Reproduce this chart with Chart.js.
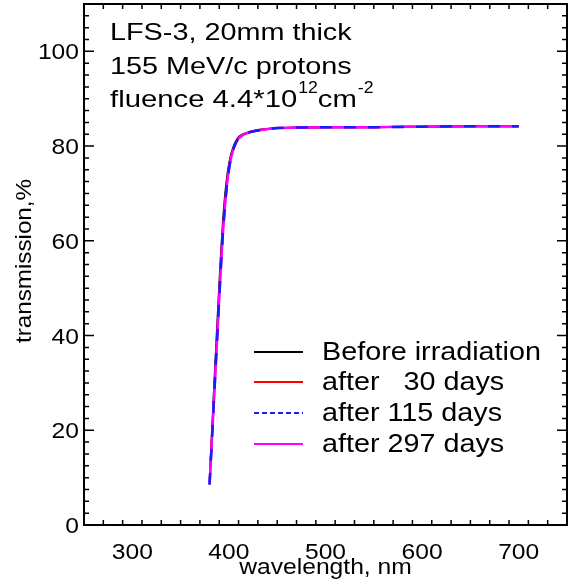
<!DOCTYPE html>
<html lang="en">
<head>
<meta charset="UTF-8">
<title>LFS-3 transmission</title>
<script src="https://cdn.jsdelivr.net/npm/chart.js"></script>
<style>
  body { margin: 0; background: #fff; }
  #wrap { width: 573px; height: 585px; position: relative; }
</style>
</head>
<body>
<div id="wrap"><canvas id="chart"></canvas></div>
<script>
// wavelength, nm
const wavelengths = [380, 382, 384, 386, 388, 390, 392, 394, 396, 398, 400, 402, 404, 406, 408, 410,
  413, 416, 420, 425, 430, 440, 450, 470, 500, 550, 600, 650, 700];
// transmission, %
const before  = [9.0, 17.5, 26.0, 34.5, 42.5, 50.5, 58.0, 64.5, 69.5, 73.3, 76.0, 78.0, 79.4, 80.5, 81.3, 81.9,
  82.3, 82.6, 82.9, 83.2, 83.4, 83.6, 83.8, 83.9, 84.0, 84.0, 84.1, 84.2, 84.2];
const after30 = [8.8, 16.6, 24.5, 32.4, 40.3, 48.2, 55.8, 62.5, 67.8, 72.0, 75.2, 77.4, 79.0, 80.2, 81.1, 81.7,
  82.2, 82.5, 82.8, 83.1, 83.3, 83.6, 83.8, 83.9, 84.0, 84.0, 84.1, 84.2, 84.2];
const after115 = [8.5, 16.3, 24.2, 32.1, 40.0, 47.9, 55.5, 62.2, 67.5, 71.8, 75.0, 77.3, 78.9, 80.1, 81.0, 81.6,
  82.1, 82.5, 82.8, 83.1, 83.3, 83.6, 83.8, 83.9, 84.0, 84.0, 84.1, 84.2, 84.2];
const after297 = [8.6, 16.4, 24.3, 32.2, 40.1, 48.0, 55.6, 62.3, 67.6, 71.9, 75.1, 77.3, 78.9, 80.1, 81.0, 81.6,
  82.1, 82.5, 82.8, 83.1, 83.3, 83.6, 83.8, 83.9, 84.0, 84.0, 84.1, 84.2, 84.2];

const seriesLabels = ['Before irradiation', 'after   30 days', 'after 115 days', 'after 297 days'];
const xTicks = [300, 400, 500, 600, 700];
const yTicks = [0, 20, 40, 60, 80, 100];

const FONT = '"Liberation Sans", Arial, Helvetica, sans-serif';

function toPoints(ys) {
  return wavelengths.map((w, i) => ({ x: w, y: ys[i] }));
}

// draw text widened horizontally, returns the drawn width
function wideText(ctx, text, x, y, size, align, sx) {
  ctx.save();
  ctx.font = size + 'px ' + FONT;
  ctx.textAlign = align;
  ctx.textBaseline = 'alphabetic';
  ctx.translate(x, y);
  ctx.scale(sx, 1);
  ctx.fillText(text, 0, 0);
  const w = ctx.measureText(text).width * sx;
  ctx.restore();
  return w;
}

const frame = {
  id: 'frame',
  afterDraw(chart) {
    const { ctx, chartArea: a, scales: { x, y } } = chart;
    ctx.save();
    ctx.fillStyle = '#000';
    ctx.strokeStyle = '#000';

    // ticks pointing inwards on all four sides
    ctx.lineWidth = 1.5;
    ctx.beginPath();
    for (let i = 1; i < 25; i++) {
      const v = 250 + i * 20;
      const px = x.getPixelForValue(v);
      const len = xTicks.includes(v) ? 10 : 5;
      ctx.moveTo(px, a.bottom); ctx.lineTo(px, a.bottom - len);
      ctx.moveTo(px, a.top); ctx.lineTo(px, a.top + len);
    }
    for (let i = 1; i < 44; i++) {
      const v = i * 2.5;
      const py = y.getPixelForValue(v);
      const len = yTicks.includes(v) ? 10 : 5;
      ctx.moveTo(a.left, py); ctx.lineTo(a.left + len, py);
      ctx.moveTo(a.right, py); ctx.lineTo(a.right - len, py);
    }
    ctx.stroke();

    ctx.lineWidth = 2;
    ctx.strokeRect(a.left, a.top, a.right - a.left, a.bottom - a.top);

    // tick labels
    xTicks.forEach(v => wideText(ctx, String(v), x.getPixelForValue(v), a.bottom + 34, 22, 'center', 1.12));
    yTicks.forEach(v => wideText(ctx, String(v), a.left - 5, y.getPixelForValue(v) + 8, 22, 'right', 1.12));

    // axis titles
    wideText(ctx, 'wavelength, nm', (a.left + a.right) / 2, 574, 22, 'center', 1.12);
    ctx.save();
    ctx.translate(31, 261);
    ctx.rotate(-Math.PI / 2);
    wideText(ctx, 'transmission,%', 0, 0, 22, 'center', 1.1);
    ctx.restore();

    // annotation
    wideText(ctx, 'LFS-3, 20mm thick', 110, 40, 24, 'left', 1.2);
    wideText(ctx, '155 MeV/c protons', 110, 74, 24, 'left', 1.2);
    let cx = 110;
    cx += wideText(ctx, 'fluence 4.4*10', cx, 107, 24, 'left', 1.22);
    cx += wideText(ctx, '12', cx + 1, 93, 16, 'left', 1.1) + 1;
    cx += wideText(ctx, 'cm', cx, 107, 24, 'left', 1.22);
    wideText(ctx, '-2', cx + 1, 93, 16, 'left', 1.1);

    // legend inside the plot
    const rows = [352, 382, 413, 444];
    chart.data.datasets.forEach((ds, i) => {
      ctx.save();
      ctx.strokeStyle = ds.borderColor;
      ctx.lineWidth = 2;
      ctx.setLineDash(ds.legendDash || []);
      ctx.beginPath();
      ctx.moveTo(254, rows[i]);
      ctx.lineTo(303, rows[i]);
      ctx.stroke();
      ctx.restore();
      wideText(ctx, ds.label, 322, rows[i] + 8, 25, 'left', 1.15);
    });
    ctx.restore();
  }
};

const common = { pointRadius: 0, borderWidth: 2, cubicInterpolationMode: 'monotone', fill: false };

new Chart(document.getElementById('chart'), {
  type: 'line',
  data: {
    datasets: [
      { ...common, label: seriesLabels[0], data: toPoints(before), borderColor: '#000000', order: 3 },
      { ...common, label: seriesLabels[1], data: toPoints(after30), borderColor: '#ff0000', order: 2 },
      { ...common, label: seriesLabels[2], data: toPoints(after115), borderColor: '#1a1aff', borderWidth: 2.5,
        borderDash: [12, 12], legendDash: [5, 3], order: 0 },
      { ...common, label: seriesLabels[3], data: toPoints(after297), borderColor: '#ff00ff', borderWidth: 2.5, order: 1 }
    ]
  },
  options: {
    responsive: true,
    maintainAspectRatio: false,
    animation: false,
    layout: { padding: { left: 84, top: 4, right: 6, bottom: 60 } },
    plugins: { legend: { display: false }, tooltip: { enabled: false } },
    scales: {
      x: { type: 'linear', min: 250, max: 750, display: false },
      y: { type: 'linear', min: 0, max: 110, display: false }
    }
  },
  plugins: [frame]
});
</script>
</body>
</html>
